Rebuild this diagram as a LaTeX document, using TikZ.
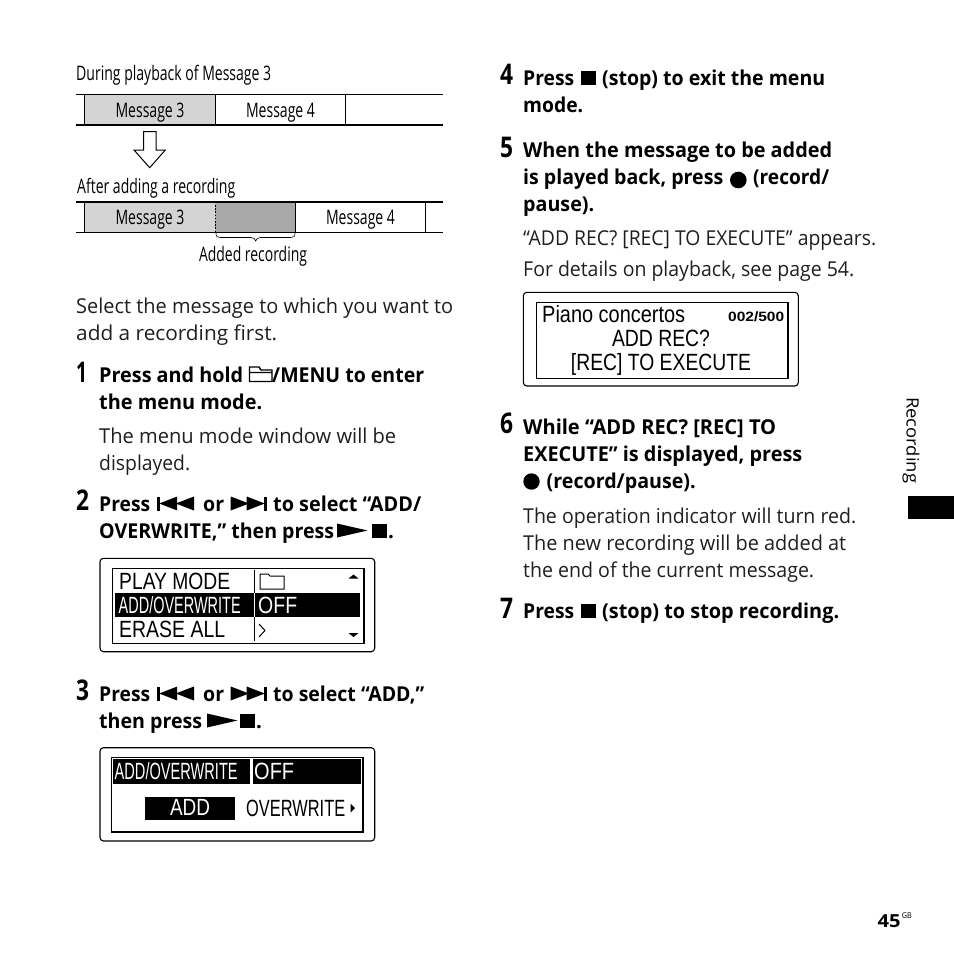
\documentclass[tikz,border=0pt]{standalone}
\usepackage{fontspec}
\usepackage{graphicx}
\setmainfont{Open Sans}
\newfontfamily\lcdf{Liberation Sans}
% set a line of text to the exact width it has in the reference
\newcommand\fw[2]{\resizebox{#1pt}{\height}{#2}}
\newcommand\bodyfont{\fontsize{20.5}{25}\selectfont}
\newcommand\StopSym[2]{\fill (#1,#2) rectangle ++(15,-14.5);}
\newcommand\PlaySym[2]{\fill (#1,#2) -- ++(0,-14) -- ++(30.5,7) -- cycle;}
\newcommand\PrevSym[2]{\fill (#1,#2) rectangle ++(2.8,-14);
  \fill (#1+2.5,#2-7) -- ++(18,-7) -- ++(0,14) -- cycle;
  \fill (#1+19,#2-7) -- ++(18.3,-7) -- ++(0,14) -- cycle;}
\newcommand\NextSym[2]{\fill (#1+33.7,#2) rectangle ++(2.8,-14);
  \fill (#1+34,#2-7) -- ++(-18,-7) -- ++(0,14) -- cycle;
  \fill (#1+18.3,#2-7) -- ++(-18.3,-7) -- ++(0,14) -- cycle;}
\tikzset{
  body/.style={anchor=base west,inner sep=0pt,font=\bodyfont,text=black!88},
  bold/.style={anchor=base west,inner sep=0pt,font=\bodyfont\bfseries},
  numeral/.style={anchor=base west,inner sep=0pt,font=\fontsize{28.5}{30}\selectfont\bfseries},
  lab/.style={anchor=base west,inner sep=0pt,font=\fontsize{20}{24}\selectfont},
  labc/.style={anchor=base,inner sep=0pt,font=\fontsize{20}{24}\selectfont},
  lcd/.style={anchor=base west,inner sep=0pt,font=\lcdf\fontsize{23.5}{26}\selectfont},
  lcdc/.style={anchor=base,inner sep=0pt,font=\lcdf\fontsize{23.5}{26}\selectfont},
  frame/.style={draw=black,line width=1.1pt,rounded corners=3.5pt,fill=white},
  lcdbox/.style={draw=black,line width=1pt,fill=white},
}
\definecolor{lightg}{gray}{0.83}
\definecolor{darkg}{gray}{0.66}
\begin{document}
\begin{tikzpicture}[x=1pt,y=-1pt]
\useasboundingbox (0,0) rectangle (954,954);
% ---- top diagram
\node[lab] (h1) at (76,80) {\fw{195}{During playback of Message 3}};
\fill[lightg] (84.7,94.5) rectangle (215.3,124.7);
\draw[line width=.9pt] (76,94.5) -- (442.5,94.5);
\draw[line width=1.9pt] (76,124.7) -- (442.5,124.7);
\draw[line width=.8pt] (84.7,94.5) -- (84.7,124.7) (215.3,94.5) -- (215.3,124.7) (345.3,94.5) -- (345.3,124.7);
\node[labc] (m3a) at (150,117) {\fw{69}{Message 3}};
\node[labc] (m4a) at (280.5,117) {\fw{69}{Message 4}};
\draw[line width=1pt,fill=white] (143.5,131.7) -- (156,131.7) -- (156,150) -- (165.3,150) -- (149.7,167.7) -- (134,150) -- (143.5,150) -- cycle;
\node[lab] (h2) at (77,193) {\fw{158}{After adding a recording}};
\fill[lightg] (84.7,201.7) rectangle (215.3,232);
\fill[darkg] (215.3,201.7) rectangle (295.3,232);
\draw[line width=1.9pt] (76,201.7) -- (442.5,201.7);
\draw[line width=.9pt] (76,232.3) -- (442.5,232.3);
\draw[line width=.8pt] (84.7,201.7) -- (84.7,232) (295.3,201.7) -- (295.3,232) (425.7,201.7) -- (425.7,232);
\draw[line width=.8pt,dash pattern=on 1.6pt off 1.6pt] (215.3,201.7) -- (215.3,232);
\node[labc] (m3b) at (150,224.5) {\fw{69}{Message 3}};
\node[labc] (m4b) at (360.5,224.5) {\fw{69}{Message 4}};
\draw[line width=.6pt] (216,233) .. controls (216,236.5) and (217,237.5) .. (220,237.5) -- (251,237.5) .. controls (254,237.5) and (255,239) .. (255.7,241) .. controls (256.4,239) and (257.4,237.5) .. (260.4,237.5) -- (291,237.5) .. controls (294,237.5) and (295,236.5) .. (295,233);
\node[labc] (addrec) at (253,261) {\fw{108}{Added recording}};
% ---- left column
\node[body] (a1) at (76,313) {\fw{377}{Select the message to which you want to}};
\node[body] (a2) at (76,340) {\fw{201}{add a recording first.}};
\node[numeral] (n1) at (76,382) {\fw{11}{1}};
\node[bold] (s1a) at (99,382) {\fw{144}{Press and hold}};
\draw[line width=1.4pt] (249.5,381.5) -- (249.5,367) -- (259,367) -- (261,370) -- (272,370) -- (272,381.5) -- cycle (249.5,372.5) -- (272,372.5);
\node[bold] (s1b) at (272,382) {\fw{152}{/MENU to enter}};
\node[bold] (s1c) at (99,409) {\fw{163}{the menu mode.}};
\node[body] (s1d) at (99,443) {\fw{297}{The menu mode window will be}};
\node[body] (s1e) at (99,470) {\fw{91}{displayed.}};
\node[numeral] (n2) at (76,510) {\fw{13}{2}};
\node[bold] (s2a) at (99,511) {\fw{51}{Press}};
\PrevSym{156.7}{510.5}
\node[bold] (s2b) at (203,511) {\fw{21}{or}};
\NextSym{230.7}{510.5}
\node[bold] (s2c) at (273,511) {\fw{148}{to select “ADD/}};
\node[bold] (s2d) at (99,538) {\fw{235}{OVERWRITE,” then press}};
\PlaySym{337}{537.5}
\StopSym{371.5}{538}
\node[bold] (s2e) at (388,538) {.};
% screen 1
\draw[frame] (100,558.3) rectangle (374.7,651.7);
\draw[lcdbox] (112.3,568.3) rectangle (364,643.3);
\draw[line width=1.6pt] (112.3,643.3) -- (364,643.3) -- (364,568.3);
\fill (115,593.3) rectangle (360,617.3);
\fill[white] (253.6,593.3) rectangle (255,617.3);
\draw[line width=.9pt] (254.3,570) -- (254.3,593) (254.3,617) -- (254.3,641);
\node[lcd] (p1) at (119,589.5) {\fw{111}{PLAY MODE}};
\node[lcd,text=white] (p2) at (118.5,613) {\fw{122}{ADD/OVERWRITE}};
\node[lcd] (p3) at (119,637.5) {\fw{106}{ERASE ALL}};
\node[lcd,text=white] (p4) at (258,613) {\fw{39}{OFF}};
\draw[line width=1pt] (260,589) -- (260,574) -- (268,574) -- (270,576) -- (284,576) -- (284,589) -- cycle;
\draw[line width=1pt] (259,624) -- (265,630.5) -- (259,637);
\fill (353.5,574.5) -- (358.5,578.5) -- (348.5,578.5) -- cycle;
\fill (353.5,637) -- (358.5,633) -- (348.5,633) -- cycle;
% step 3
\node[numeral] (n3) at (76,700) {\fw{13}{3}};
\node[bold] (s3a) at (99,701) {\fw{51}{Press}};
\PrevSym{156.7}{700.5}
\node[bold] (s3b) at (203,701) {\fw{21}{or}};
\NextSym{230.7}{700.5}
\node[bold] (s3c) at (273,701) {\fw{151}{to select “ADD,”}};
\node[bold] (s3d) at (99,728) {\fw{103}{then press}};
\PlaySym{207}{727.5}
\StopSym{240}{728}
\node[bold] (s3e) at (256,728) {.};
% screen 2
\draw[frame] (100,747.7) rectangle (374.7,841);
\draw[lcdbox] (111.3,757.7) rectangle (363.3,832.3);
\draw[line width=1.8pt] (111.3,832.3) -- (363.3,832.3) -- (363.3,757.7);
\fill (113,759.3) rectangle (250,784);
\fill (252.7,759.3) rectangle (361,784);
\fill (145,797) rectangle (235,820);
\node[lcd,text=white] (q1) at (114.5,779.5) {\fw{123}{ADD/OVERWRITE}};
\node[lcd,text=white] (q2) at (254,779.5) {\fw{40}{OFF}};
\node[lcdc,text=white] (q3) at (190,815.5) {\fw{40}{ADD}};
\node[lcd] (q4) at (246,816) {\fw{99}{OVERWRITE}};
\fill (350.5,803.5) -- (355,808) -- (350.5,812.5) -- cycle;
% ---- right column
\node[numeral] (n4) at (500,84) {\fw{13}{4}};
\node[bold] (r4a) at (523,85) {\fw{51}{Press}};
\StopSym{581}{85}
\node[bold] (r4b) at (602,85) {\fw{223}{(stop) to exit the menu}};
\node[bold] (r4c) at (523,112) {\fw{60}{mode.}};
\node[numeral] (n5) at (500,157) {\fw{13}{5}};
\node[bold] (r5a) at (523,157) {\fw{309}{When the message to be added}};
\node[bold] (r5b) at (523,184) {\fw{200}{is played back, press}};
\fill (738.3,180) circle (8.3);
\node[bold] (r5c) at (753,184) {\fw{76}{(record/}};
\node[bold] (r5d) at (523,211) {\fw{71}{pause).}};
\node[body] (r5e) at (523,245) {\fw{353}{“ADD REC? [REC] TO EXECUTE” appears.}};
\node[body] (r5f) at (523,276) {\fw{331}{For details on playback, see page 54.}};
% screen 3
\draw[frame] (523.3,292.3) rectangle (798.3,386);
\draw[lcdbox] (536.7,302.3) rectangle (787.7,378.3);
\draw[line width=1.6pt] (536.7,378.3) -- (787.7,378.3) -- (787.7,302.3);
\node[lcd] (w1) at (542,322) {\fw{143}{Piano concertos}};
\node[anchor=base west,inner sep=0pt,font=\lcdf\bfseries\fontsize{13.5}{15}\selectfont] (w2) at (728,321) {\fw{56}{002/500}};
\node[lcdc] (w3) at (661,346) {\fw{98}{ADD REC?}};
\node[lcdc] (w4) at (661,370) {\fw{180}{[REC] TO EXECUTE}};
\node[numeral] (n6) at (500,433.5) {\fw{13}{6}};
\node[bold] (r6a) at (523,434.5) {\fw{253}{While “ADD REC? [REC] TO}};
\node[bold] (r6b) at (523,461) {\fw{279}{EXECUTE” is displayed, press}};
\fill (531.5,481.5) circle (8.2);
\node[bold] (r6c) at (546.5,488) {\fw{149}{(record/pause).}};
\node[body] (r6d) at (523,523) {\fw{333}{The operation indicator will turn red.}};
\node[body] (r6e) at (523,550) {\fw{323}{The new recording will be added at}};
\node[body] (r6f) at (523,577) {\fw{291}{the end of the current message.}};
\node[numeral] (n7) at (500,618) {\fw{13}{7}};
\node[bold] (r7a) at (523,618) {\fw{51}{Press}};
\StopSym{581}{618}
\node[bold] (r7b) at (602,618) {\fw{237}{(stop) to stop recording.}};
% ---- margin
\node[anchor=base west,inner sep=0pt,rotate=-90,font=\fontsize{17}{19}\selectfont] (side) at (906.5,397) {\fw{86}{Recording}};
\fill (908,496) rectangle (954,519);
\node[anchor=base west,inner sep=0pt,font=\fontsize{18}{20}\selectfont\bfseries] (pg) at (877.5,927) {\fw{23}{45}};
\node[anchor=base west,inner sep=0pt,font=\fontsize{8}{9}\selectfont] (gb) at (901.7,918) {\fw{10}{GB}};
\end{tikzpicture}
\end{document}
